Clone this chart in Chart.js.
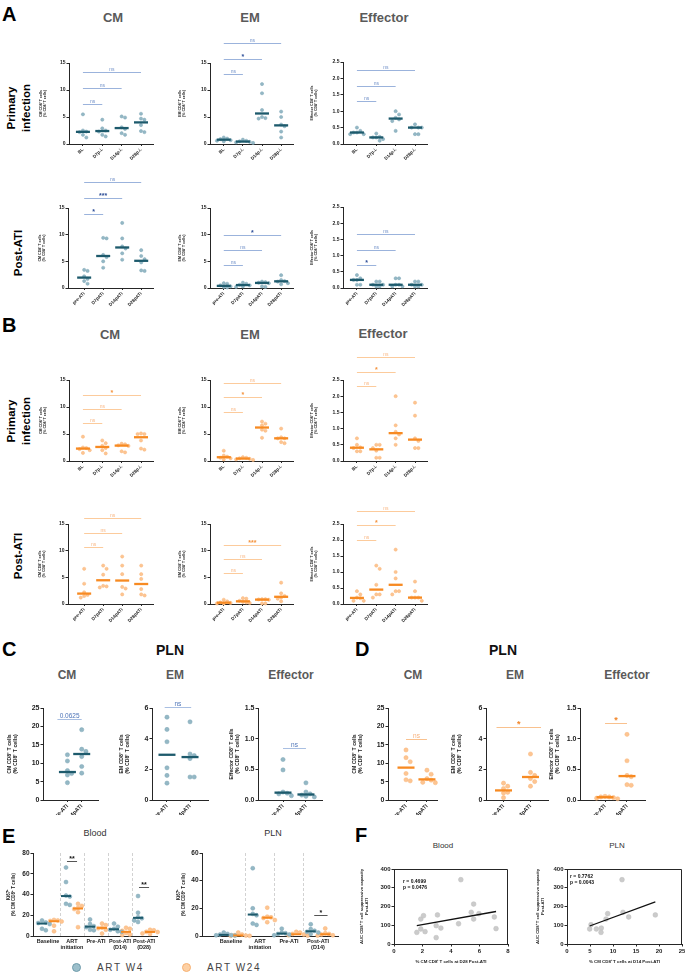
<!DOCTYPE html>
<html lang="en">
<head>
<meta charset="UTF-8">
<meta name="viewport" content="width=device-width, initial-scale=1.0">
<title>CD8 T cell memory subsets</title>
<style>
  body { margin: 0; background: #fff; font-family: 'Liberation Sans', Arial, sans-serif; }
  #fig { position: relative; width: 685px; height: 975px; overflow: hidden; }
  #fig canvas { position: absolute; }
  .t { position: absolute; white-space: nowrap; line-height: 1; transform: translate(-50%, -50%); }
  .letter { position: absolute; font-size: 20px; font-weight: bold; line-height: 1; color: #000; }
  .sub { font-size: 13px; font-weight: bold; color: #5a5a5a; }
  .subs { font-size: 12px; font-weight: bold; color: #5a5a5a; }
  .row { font-size: 11.5px; font-weight: bold; color: #000; text-align: center; line-height: 1.3; transform: translate(-50%, -50%) rotate(-90deg); }
  .pln { font-size: 14px; font-weight: bold; color: #111; }
  .tis { font-size: 9px; color: #333; }
  .tisF { font-size: 8px; color: #333; }
  .legend { position: absolute; top: 962px; font-size: 10px; letter-spacing: 1.6px; color: #444; line-height: 11px; }
  .ldot { position: absolute; width: 7px; height: 7px; border-radius: 50%; top: 963px; }
</style>
</head>
<body>
<div id="fig">
  <div class="letter" style="left:2px;top:4px">A</div>
  <div class="t sub" style="left:113px;top:17px">CM</div>
  <div class="t sub" style="left:250px;top:17px">EM</div>
  <div class="t sub" style="left:384px;top:17px">Effector</div>
  <div class="t row" style="left:19px;top:108px">Primary<br>infection</div>
  <div class="t row" style="left:18px;top:253px">Post-ATI</div>

  <div class="letter" style="left:2px;top:315px">B</div>
  <div class="t sub" style="left:110px;top:334px">CM</div>
  <div class="t sub" style="left:250px;top:334px">EM</div>
  <div class="t sub" style="left:383px;top:333px">Effector</div>
  <div class="t row" style="left:19px;top:421px">Primary<br>infection</div>
  <div class="t row" style="left:18px;top:556px">Post-ATI</div>

  <div class="letter" style="left:2px;top:639px">C</div>
  <div class="t pln" style="left:170px;top:650px">PLN</div>
  <div class="t subs" style="left:67px;top:675px">CM</div>
  <div class="t subs" style="left:175px;top:675px">EM</div>
  <div class="t subs" style="left:291px;top:675px">Effector</div>

  <div class="letter" style="left:355px;top:639px">D</div>
  <div class="t pln" style="left:503px;top:650px">PLN</div>
  <div class="t subs" style="left:413px;top:675px">CM</div>
  <div class="t subs" style="left:515px;top:675px">EM</div>
  <div class="t subs" style="left:627px;top:675px">Effector</div>

  <div class="letter" style="left:2px;top:826px">E</div>
  <div class="t tis" style="left:95px;top:833px">Blood</div>
  <div class="t tis" style="left:273px;top:833px">PLN</div>

  <div class="letter" style="left:355px;top:825px">F</div>
  <div class="t tisF" style="left:443px;top:846px">Blood</div>
  <div class="t tisF" style="left:617px;top:846px">PLN</div>

  <div class="ldot" style="left:72px;background:#9cbfcb;border:1px solid #6f9cab"></div>
  <div class="legend" style="left:97px">ART W4</div>
  <div class="ldot" style="left:182px;background:#fdd0a4;border:1px solid #f7b172"></div>
  <div class="legend" style="left:207px">ART W24</div>
</div>

<script src="https://cdn.jsdelivr.net/npm/chart.js"></script>
<script>
// ---- data ----
const primLabels = ['BL', 'D7p.i.', 'D14p.i.', 'D28p.i.'];
const atiLabels = ['pre-ATI', 'D7pATI', 'D14pATI', 'D28pATI'];
const pairLabels = ['pre-ATI', 'D14pATI'];
const eBloodLabels = ['Baseline', ['ART', 'initiation'], 'Pre-ATI', ['Post-ATI', '(D14)'], ['Post-ATI', '(D28)']];
const ePlnLabels = ['Baseline', ['ART', 'initiation'], 'Pre-ATI', ['Post-ATI', '(D14)']];

// A: ART W4, blood (% of CD8+ T cells), one array per time point
const aCmPrim = [[5.5, 2.5, 2.3, 2.2, 1.7, 1.2], [4.5, 2.9, 2.5, 2.3, 1.7, 1.4], [5.1, 4.9, 3.1, 2.8, 2.0, 1.7], [5.6, 4.7, 4.5, 3.5, 2.4, 2.2]];
const aEmPrim = [[1.2, 1.0, 0.9, 0.7, 0.6, 0.5], [0.8, 0.6, 0.5, 0.4, 0.3, 0.2], [11.1, 9.4, 6.3, 5.0, 4.8, 4.7], [6.0, 5.0, 3.6, 3.3, 2.3, 1.2]];
const aEffPrim = [[0.5, 0.4, 0.35, 0.35, 0.3, 0.3], [0.32, 0.22, 0.2, 0.2, 0.15, 0.1], [1.0, 0.9, 0.8, 0.75, 0.7, 0.4], [0.6, 0.5, 0.5, 0.5, 0.3, 0.3]];
const aCmAti = [[3.4, 3.2, 2.2, 1.7, 1.3, 0.8], [9.4, 9.3, 6.2, 5.8, 5.0, 3.8], [12.2, 9.3, 7.8, 7.4, 6.5, 5.3], [7.1, 6.0, 5.4, 4.8, 3.3, 3.2]];
const aEmAti = [[0.9, 0.8, 0.5, 0.3, 0.2, 0.1], [1.0, 0.8, 0.6, 0.5, 0.3, 0.2], [1.2, 1.1, 1.0, 0.9, 0.3, 0.2], [2.4, 1.5, 1.3, 1.2, 0.9, 0.7]];
const aEffAti = [[0.4, 0.3, 0.25, 0.25, 0.1, 0.1], [0.2, 0.2, 0.1, 0.1, 0.05, 0.05], [0.3, 0.3, 0.1, 0.1, 0.05, 0.05], [0.2, 0.2, 0.1, 0.1, 0.05, 0.05]];

// B: ART W24, blood
const bCmPrim = [[4.5, 2.5, 2.4, 2.2, 2.0, 1.5], [3.8, 3.3, 2.8, 2.4, 2.0, 1.4], [3.2, 3.1, 2.9, 2.8, 1.8, 1.6], [5.1, 5.0, 5.0, 3.8, 2.3, 2.1]];
const bEmPrim = [[1.9, 1.0, 0.8, 0.6, 0.5, 0.3], [0.7, 0.6, 0.5, 0.4, 0.3, 0.2], [7.3, 6.9, 6.6, 5.8, 5.6, 4.3], [6.0, 4.4, 4.2, 4.2, 3.5, 3.3]];
const bEffPrim = [[0.7, 0.5, 0.42, 0.4, 0.3, 0.3], [0.5, 0.5, 0.4, 0.32, 0.1, 0.1], [2.0, 1.1, 0.9, 0.82, 0.7, 0.5], [1.8, 1.4, 0.7, 0.62, 0.4, 0.4]];
const bCmAti = [[6.6, 3.8, 2.2, 1.7, 1.5, 1.2], [7.2, 6.6, 5.5, 3.4, 3.3, 3.1], [8.9, 7.2, 5.6, 3.2, 2.9, 1.8], [7.2, 5.6, 4.7, 2.8, 1.8, 1.6]];
const bEmAti = [[0.8, 0.5, 0.3, 0.2, 0.1, 0.1], [1.1, 1.0, 0.6, 0.4, 0.3, 0.2], [0.9, 0.9, 0.85, 0.8, 0.1, 0.1], [4.0, 2.0, 1.5, 1.2, 1.0, 0.5]];
const bEffAti = [[0.4, 0.3, 0.2, 0.18, 0.1, 0.1], [1.2, 1.1, 0.6, 0.3, 0.3, 0.2], [1.7, 1.0, 0.8, 0.4, 0.4, 0.3], [0.7, 0.4, 0.2, 0.2, 0.2, 0.1]];

// C: ART W4, PLN; D: ART W24, PLN
const cCm = [[12.3, 10.6, 8.0, 7.2, 6.8, 4.7], [19.1, 13.8, 13.2, 11.8, 9.1, 7.3]];
const cEm = [[5.4, 4.6, 3.8, 2.1, 1.6, 1.1], [5.1, 3.0, 2.9, 2.7, 1.5, 1.5]];
const cEff = [[0.66, 0.49, 0.13, 0.11, 0.1, 0.07], [0.28, 0.13, 0.1, 0.08, 0.06, 0.05]];
const dCm = [[13.6, 11.5, 10.4, 7.2, 5.5, 5.2], [8.1, 7.0, 5.8, 5.4, 4.8, 4.7]];
const dEm = [[1.1, 0.9, 0.75, 0.5, 0.45, 0.15], [3.0, 1.8, 1.6, 1.4, 1.2, 0.9]];
const dEff = [[0.06, 0.05, 0.05, 0.04, 0.03, 0.02], [1.07, 0.64, 0.4, 0.38, 0.25, 0.24]];

// E: Ki67+ (% CM CD8+ T cells)
const eBloodW4 = [[15, 13, 12.5, 11.5, 7, 5.5], [66, 52, 39, 38, 31, 30], [16, 11.5, 9.5, 8.5, 6, 5.5], [12, 9, 7, 6, 4.5, 4], [38.5, 22.5, 18, 17, 15, 13.5]];
const eBloodW24 = [[15.5, 15, 14.5, 14, 10, 4.5], [31, 29, 27, 26, 23, 8.5], [12, 10.5, 8, 7.5, 6, 2.3], [8, 7, 5, 3, 1.5, 1], [6, 5.5, 4, 3.8, 2.5, 2]];
const ePlnW4 = [[2.5, 1.5, 1, 0.6, 0.5, 0.3], [49, 20, 16, 15, 9, 8], [5.3, 2.5, 2, 1.5, 1, 0.5], [8.5, 5, 3.8, 3, 2.5, 1.5]];
const ePlnW24 = [[2.5, 1, 0.5, 0.3, 0.2, 0.1], [20.5, 14, 13.5, 13, 11.5, 10], [3, 2.5, 1.5, 1, 0.5, 0.3], [5.5, 2, 1.5, 1, 0.5, 0.3]];

// F: [% CM CD8+ T cells, AUC suppressive capacity]
const fBlood = [[1.6, 62], [1.88, 133], [1.88, 80], [2.07, 151], [2.18, 66], [3.05, 155], [2.96, 98], [2.96, 34], [3.29, 85], [4.53, 108], [4.69, 343], [5.42, 169], [5.59, 213], [5.59, 133], [5.96, 162], [7.04, 144], [7.16, 82]];
const fPln = [[4.93, 80], [5.22, 103], [6.38, 80], [7.46, 85], [7.39, 62], [8.48, 133], [8.84, 162], [12.17, 169], [13.41, 144], [11.96, 343], [19.2, 155]];

// ---- styles ----
const FONT = "'Liberation Sans', Arial, sans-serif";
const AX = '#262626';
const W4 = { dot: '#94b8c5', edge: '#7ea7b6', med: '#1d5a6c' };
const W24 = { dot: '#fdc592', edge: '#f9b478', med: '#f78a22' };
const SIG_A = { line: '#9bb3dc', ns: '#7090c8', star: '#2d4e98' };
const SIG_B = { line: '#fccb9c', ns: '#f9b886', star: '#f4923c' };
const SIG_C = { line: '#a9bfe2', ns: '#4d74b8', star: '#2d4e98' };
const SIG_D = { line: '#f9c18e', ns: '#f7b07a', star: '#f2862a' };
const SIG_E = { line: '#555', ns: '#222', star: '#111' };

Chart.defaults.font.family = FONT;
Chart.defaults.animation = false;
Chart.defaults.plugins.legend.display = false;
Chart.defaults.plugins.tooltip.enabled = false;

const fig = document.getElementById('fig');
function addCanvas(x, y, w, h) {
  const c = document.createElement('canvas');
  c.width = Math.round(w); c.height = Math.round(h);
  Object.assign(c.style, { left: x + 'px', top: y + 'px', width: c.width + 'px', height: c.height + 'px' });
  fig.appendChild(c);
  return c;
}

const median = a => {
  const s = [...a].sort((p, q) => p - q), m = s.length >> 1;
  return s.length % 2 ? s[m] : (s[m - 1] + s[m]) / 2;
};

// spread the dots of one group sideways where they would overlap (pixel offsets)
function swarm(vals, yUnit, gap) {
  const placed = [];
  const cands = [0, 1, -1, 2, -2, 3, -3, 4, -4];
  return vals.map(v => {
    const py = v * yUnit;
    let off = 0;
    for (const c of cands) {
      const ox = c * gap;
      if (placed.every(p => Math.hypot(p.x - ox, p.y - py) >= gap)) { off = ox; break; }
    }
    placed.push({ x: off, y: py });
    return off;
  });
}

function dotPlot(o) {
  const { l, t, r, b } = o.area;
  const padR = 4;
  const ymax = o.yticks[o.yticks.length - 1];
  const cv = addCanvas(l - o.yw, t - o.padT, r - l + o.yw + padR, b - t + o.padT + o.xh);
  const xUnit = (r - l) / (o.xmax - o.xmin);
  const yUnit = (b - t) / ymax;
  const meds = [];
  const datasets = o.series.map(s => {
    const pts = [];
    s.groups.forEach((g, i) => {
      const cx = i + (s.shift || 0);
      const offs = swarm(g, yUnit, o.gap);
      g.forEach((v, k) => pts.push({ x: cx + offs[k] / xUnit, y: v }));
      meds.push({ x: cx, y: median(g), c: s.col.med });
    });
    return { data: pts, backgroundColor: s.col.dot, borderColor: s.col.edge, borderWidth: 0.5,
             pointRadius: o.rad, pointHoverRadius: o.rad, clip: false };
  });

  const marks = {
    id: 'marks',
    beforeDatasetsDraw(chart) {
      const { ctx, chartArea: ca, scales: { x } } = chart;
      ctx.save();
      ctx.strokeStyle = '#d2d2d2'; ctx.lineWidth = 1; ctx.setLineDash([3, 2]);
      (o.seps || []).forEach(v => {
        const px = Math.round(x.getPixelForValue(v)) + 0.5;
        ctx.beginPath(); ctx.moveTo(px, ca.top); ctx.lineTo(px, ca.bottom); ctx.stroke();
      });
      ctx.restore();
    },
    afterDatasetsDraw(chart) {
      const { ctx, scales: { x, y } } = chart;
      ctx.save();
      meds.forEach(m => {
        const px = x.getPixelForValue(m.x), py = y.getPixelForValue(m.y);
        ctx.strokeStyle = m.c; ctx.lineWidth = o.medW;
        ctx.beginPath(); ctx.moveTo(px - o.medHW, py); ctx.lineTo(px + o.medHW, py); ctx.stroke();
      });
      (o.brackets || []).forEach(([i, j, v, txt]) => {
        const x1 = x.getPixelForValue(i), x2 = x.getPixelForValue(j);
        const py = Math.round(y.getPixelForValue(v)) + 0.5;
        const star = txt.startsWith('*');
        ctx.strokeStyle = o.sig.line; ctx.lineWidth = 1;
        ctx.beginPath(); ctx.moveTo(x1, py); ctx.lineTo(x2, py); ctx.stroke();
        ctx.fillStyle = star ? o.sig.star : o.sig.ns;
        ctx.font = (star ? 'bold ' + o.starF : o.nsF) + 'px ' + FONT;
        ctx.textAlign = 'center'; ctx.textBaseline = 'alphabetic';
        ctx.fillText(txt, (x1 + x2) / 2, py - (star ? 1 : 2));
      });
      ctx.restore();
    }
  };

  new Chart(cv, {
    type: 'scatter',
    data: { datasets },
    options: {
      responsive: false,
      layout: { padding: { top: o.padT, right: padR, left: 0, bottom: 0 } },
      scales: {
        x: {
          type: 'linear', min: o.xmin, max: o.xmax,
          afterBuildTicks: s => { s.ticks = o.labels.map((_, i) => ({ value: i })); },
          afterFit: s => { s.height = o.xh; },
          ticks: { autoSkip: false, minRotation: o.rot, maxRotation: o.rot, padding: o.rot ? 1 : 2,
                   font: { size: o.xf, weight: 'bold' }, color: '#222', callback: v => o.labels[v] },
          grid: { drawOnChartArea: false, drawTicks: o.xtl !== 0, tickLength: 2, color: AX },
          border: { color: AX }
        },
        y: {
          min: 0, max: ymax,
          afterBuildTicks: s => { s.ticks = o.yticks.map(v => ({ value: v })); },
          afterFit: s => { s.width = o.yw; },
          ticks: { padding: 1, font: { size: o.tf, weight: 'bold' }, color: '#222',
                   callback: v => o.ydec ? v.toFixed(o.ydec) : v },
          grid: { drawOnChartArea: false, tickLength: 2.5, color: AX },
          border: { color: AX },
          title: { display: true, text: o.ytitle, font: { size: o.titf, weight: 'bold' }, color: '#222', padding: 0 }
        }
      }
    },
    plugins: [marks]
  });
}

function linFit(pts) {
  const n = pts.length;
  const mx = pts.reduce((s, p) => s + p[0], 0) / n, my = pts.reduce((s, p) => s + p[1], 0) / n;
  let sxy = 0, sxx = 0;
  pts.forEach(([x, y]) => { sxy += (x - mx) * (y - my); sxx += (x - mx) ** 2; });
  const slope = sxy / sxx;
  return { a: my - slope * mx, b: slope };
}

function scatterPlot(o) {
  const { l, t, r, b } = o.area;
  const padT = 8, padR = 6;
  const cv = addCanvas(l - o.yw, t - padT, r - l + o.yw + padR, b - t + padT + o.xh);
  const fit = linFit(o.pts);
  const xs = o.pts.map(p => p[0]);
  const x0 = Math.min(...xs), x1 = Math.max(...xs);
  const frame = {
    id: 'frame',
    afterDraw(chart) {
      const { ctx, chartArea: ca } = chart;
      ctx.save();
      ctx.strokeStyle = AX; ctx.lineWidth = 1;
      ctx.beginPath();
      ctx.moveTo(ca.left, ca.top + 0.5); ctx.lineTo(ca.right - 0.5, ca.top + 0.5); ctx.lineTo(ca.right - 0.5, ca.bottom);
      ctx.stroke();
      ctx.fillStyle = '#111';
      ctx.font = 'bold 5px ' + FONT;
      ctx.textBaseline = 'top';
      o.stat.forEach((s, i) => ctx.fillText(s, ca.left + o.statAt[0], ca.top + o.statAt[1] + i * 6));
      ctx.restore();
    }
  };
  new Chart(cv, {
    type: 'scatter',
    data: {
      datasets: [
        { data: [{ x: x0, y: fit.a + fit.b * x0 }, { x: x1, y: fit.a + fit.b * x1 }], showLine: true,
          borderColor: '#111', borderWidth: 1.3, pointRadius: 0 },
        { data: o.pts.map(([x, y]) => ({ x, y })), backgroundColor: '#cbcbcb', borderColor: '#bcbcbc',
          borderWidth: 0.5, pointRadius: 2.4, clip: false }
      ]
    },
    options: {
      responsive: false,
      layout: { padding: { top: padT, right: padR, left: 0, bottom: 0 } },
      scales: {
        x: {
          type: 'linear', min: 0, max: o.xmax,
          afterFit: s => { s.height = o.xh; },
          ticks: { stepSize: o.xstep, padding: 1, font: { size: 6, weight: 'bold' }, color: '#222', maxRotation: 0 },
          grid: { drawOnChartArea: false, tickLength: 2.5, color: AX },
          border: { color: AX },
          title: { display: true, text: o.xtitle, font: { size: 4.4, weight: 'bold' }, color: '#222', padding: 0 }
        },
        y: {
          min: 0, max: 400,
          afterFit: s => { s.width = o.yw; },
          ticks: { stepSize: 100, padding: 1, font: { size: 6, weight: 'bold' }, color: '#222' },
          grid: { drawOnChartArea: false, tickLength: 2.5, color: AX },
          border: { color: AX },
          title: { display: true, text: ['AUC CD8⁺ T cell suppressive capacity', 'Post-ATI'],
                   font: { size: 4.2, weight: 'bold' }, color: '#222', padding: 0 }
        }
      }
    },
    plugins: [frame]
  });
}

// ---- layout ----
const cmTitle = ['CM CD8⁺ T cells', '(% CD8⁺ T cells)'];
const emTitle = ['EM CD8⁺ T cells', '(% CD8⁺ T cells)'];
const effTitle = ['Effector CD8⁺ T cells', '(% CD8⁺ T cells)'];
const t15 = [0, 5, 10, 15], t25 = [0, 0.5, 1, 1.5, 2, 2.5];

const ab = { padT: 34, xh: 26, xmin: -0.72, xmax: 3.62, rad: 1.6, gap: 3.4, medHW: 7, medW: 2.3,
             tf: 5, titf: 3.6, xf: 4.5, rot: 45, nsF: 5, starF: 7 };
const cm = { ...ab, yw: 30, yticks: t15, ytitle: cmTitle };
const em = { ...ab, yw: 32, yticks: t15, ytitle: emTitle };
const ef = { ...ab, yw: 33, yticks: t25, ydec: 1, ytitle: effTitle };

// A
dotPlot({ ...cm, area: { l: 69, t: 63, r: 153, b: 144 }, labels: primLabels, series: [{ groups: aCmPrim, col: W4 }], sig: SIG_A,
  brackets: [[0, 1, 7.4, 'ns'], [0, 2, 10.3, 'ns'], [0, 3, 13.3, 'ns']] });
dotPlot({ ...em, area: { l: 210, t: 63, r: 293, b: 144 }, labels: primLabels, series: [{ groups: aEmPrim, col: W4 }], sig: SIG_A,
  brackets: [[0, 1, 13.0, 'ns'], [0, 2, 15.8, '*'], [0, 3, 18.7, 'ns']] });
dotPlot({ ...ef, area: { l: 343, t: 62, r: 427, b: 144 }, labels: primLabels, series: [{ groups: aEffPrim, col: W4 }], sig: SIG_A,
  brackets: [[0, 1, 1.3, 'ns'], [0, 2, 1.78, 'ns'], [0, 3, 2.26, 'ns']] });
dotPlot({ ...cm, area: { l: 68, t: 208, r: 153, b: 288 }, xmin: -0.85, labels: atiLabels, series: [{ groups: aCmAti, col: W4 }], sig: SIG_A,
  brackets: [[0, 1, 13.95, '*'], [0, 2, 16.9, '***'], [0, 3, 19.8, 'ns']] });
dotPlot({ ...em, area: { l: 210, t: 208, r: 293, b: 288 }, labels: atiLabels, series: [{ groups: aEmAti, col: W4 }], sig: SIG_A,
  brackets: [[0, 1, 4.3, 'ns'], [0, 2, 7.1, 'ns'], [0, 3, 10.0, '*']] });
dotPlot({ ...ef, area: { l: 343, t: 207, r: 427, b: 288 }, labels: atiLabels, series: [{ groups: aEffAti, col: W4 }], sig: SIG_A,
  brackets: [[0, 1, 0.7, '*'], [0, 2, 1.17, 'ns'], [0, 3, 1.66, 'ns']] });

// B
dotPlot({ ...cm, area: { l: 69, t: 380, r: 153, b: 461 }, labels: primLabels, series: [{ groups: bCmPrim, col: W24 }], sig: SIG_B,
  brackets: [[0, 1, 7.0, 'ns'], [0, 2, 9.6, 'ns'], [0, 3, 12.3, '*']] });
dotPlot({ ...em, area: { l: 210, t: 380, r: 293, b: 461 }, labels: primLabels, series: [{ groups: bEmPrim, col: W24 }], sig: SIG_B,
  brackets: [[0, 1, 9.1, 'ns'], [0, 2, 11.8, '*'], [0, 3, 14.5, 'ns']] });
dotPlot({ ...ef, area: { l: 343, t: 380, r: 427, b: 461 }, labels: primLabels, series: [{ groups: bEffPrim, col: W24 }], sig: SIG_B,
  brackets: [[0, 1, 2.31, 'ns'], [0, 2, 2.75, '*'], [0, 3, 3.2, 'ns']] });
dotPlot({ ...cm, area: { l: 68, t: 524, r: 153, b: 604 }, xmin: -0.85, labels: atiLabels, series: [{ groups: bCmAti, col: W24 }], sig: SIG_B,
  brackets: [[0, 1, 10.7, 'ns'], [0, 2, 13.4, 'ns'], [0, 3, 16.1, 'ns']] });
dotPlot({ ...em, area: { l: 210, t: 524, r: 293, b: 604 }, labels: atiLabels, series: [{ groups: bEmAti, col: W24 }], sig: SIG_B,
  brackets: [[0, 1, 5.8, 'ns'], [0, 2, 8.5, 'ns'], [0, 3, 11.1, '***']] });
dotPlot({ ...ef, area: { l: 343, t: 524, r: 427, b: 604 }, labels: atiLabels, series: [{ groups: bEffAti, col: W24 }], sig: SIG_B,
  brackets: [[0, 1, 2.0, 'ns'], [0, 2, 2.46, '*'], [0, 3, 2.92, 'ns']] });

// C / D
const cd = { padT: 16, xh: 15, rad: 2.1, gap: 4.2, medHW: 8.5, medW: 2.3, tf: 7, titf: 5.2, xf: 5.5, rot: 45,
             nsF: 6.5, starF: 9, labels: pairLabels };
dotPlot({ ...cd, area: { l: 43, t: 708, r: 98, b: 800 }, yw: 37, xmin: -1.71, xmax: 2.14, yticks: [0, 5, 10, 15, 20, 25], ytitle: cmTitle,
  series: [{ groups: cCm, col: W4 }], sig: SIG_C, brackets: [[-0.7, 1, 22, '0.0625']] });
dotPlot({ ...cd, area: { l: 152, t: 708, r: 208, b: 800 }, yw: 34, xmin: -0.65, xmax: 1.78, yticks: [0, 2, 4, 6], ytitle: emTitle,
  series: [{ groups: cEm, col: W4 }], sig: SIG_C, brackets: [[-0.1, 1.05, 6.07, 'ns']] });
dotPlot({ ...cd, area: { l: 258, t: 708, r: 322, b: 800 }, yw: 30, xmin: -1.09, xmax: 1.7, yticks: [0, 0.5, 1, 1.5], ydec: 1, ytitle: effTitle,
  series: [{ groups: cEff, col: W4 }], sig: SIG_C, brackets: [[0, 1, 0.85, 'ns']] });
dotPlot({ ...cd, area: { l: 388, t: 708, r: 437, b: 800 }, yw: 37, xmin: -0.86, xmax: 1.48, yticks: [0, 5, 10, 15, 20, 25], ytitle: cmTitle,
  series: [{ groups: dCm, col: W24 }], sig: SIG_D, brackets: [[0, 1, 16.6, 'ns']] });
dotPlot({ ...cd, area: { l: 486, t: 708, r: 548, b: 800 }, yw: 36, xmin: -0.65, xmax: 1.65, yticks: [0, 2, 4, 6], ytitle: emTitle,
  series: [{ groups: dEm, col: W24 }], sig: SIG_D, brackets: [[-0.26, 1.39, 4.76, '*']] });
dotPlot({ ...cd, area: { l: 580, t: 708, r: 645, b: 800 }, yw: 32, xmin: -1.14, xmax: 1.82, yticks: [0, 0.5, 1, 1.5], ydec: 1, ytitle: effTitle,
  series: [{ groups: dEff, col: W24 }], sig: SIG_D, brackets: [[0, 1, 1.255, '*']] });

// E
const ki = { padT: 6, xh: 24, rot: 0, xf: 5.5, tf: 6.5, titf: 4.5, xtl: 0, rad: 2, gap: 3.8, medHW: 5, medW: 2,
             ytitle: ['Ki67⁺', '(% CM CD8⁺ T cells)'], sig: SIG_E, nsF: 6, starF: 7 };
dotPlot({ ...ki, area: { l: 33, t: 853, r: 157, b: 936 }, yw: 27, xmin: -0.625, xmax: 4.54, yticks: [0, 20, 40, 60, 80],
  labels: eBloodLabels, series: [{ groups: eBloodW4, col: W4, shift: -0.25 }, { groups: eBloodW24, col: W24, shift: 0.25 }],
  seps: [0.5, 1.5, 2.5, 3.5], brackets: [[0.79, 1.21, 72.5, '**'], [3.79, 4.21, 47, '**']] });
dotPlot({ ...ki, area: { l: 202, t: 853, r: 338, b: 936 }, yw: 26, xmin: -1.0, xmax: 3.69, yticks: [0, 20, 40, 60],
  labels: ePlnLabels, series: [{ groups: ePlnW4, col: W4, shift: -0.25 }, { groups: ePlnW24, col: W24, shift: 0.25 }],
  seps: [0.5, 1.5, 2.5], brackets: [[2.87, 3.33, 15.5, '*']] });

// F
scatterPlot({ area: { l: 394, t: 869, r: 508, b: 944 }, yw: 35, xh: 20, xmax: 8, xstep: 2, pts: fBlood,
  xtitle: '% CM CD8⁺ T cells at D28 Post-ATI', stat: ['r = 0.4699', 'p = 0.0476'], statAt: [9, 10] });
scatterPlot({ area: { l: 567, t: 869, r: 682, b: 944 }, yw: 32, xh: 20, xmax: 25, xstep: 5, pts: fPln,
  xtitle: '% CM CD8⁺ T cells at D14 Post-ATI', stat: ['r = 0.7762', 'p = 0.0043'], statAt: [3, 5] });
</script>
</body>
</html>
